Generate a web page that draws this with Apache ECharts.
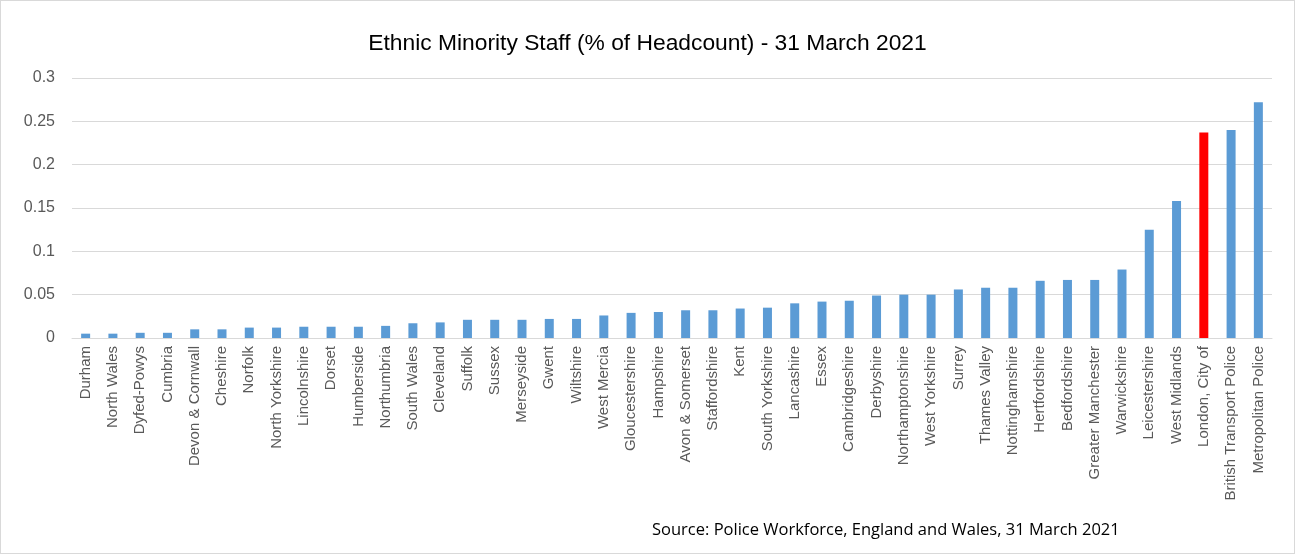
<!DOCTYPE html>
<html>
<head>
<meta charset="utf-8">
<script src="https://cdn.jsdelivr.net/npm/echarts@6/dist/echarts.min.js"></script>
<style>
    html, body { margin: 0; padding: 0; background: #fff; }
    #chart { width: 1293px; height: 552px; border: 1px solid #d9d9d9; }
</style>
</head>
<body>
<div id="chart"></div>
<script>
var forces = ['Durham', 'North Wales', 'Dyfed-Powys', 'Cumbria', 'Devon & Cornwall', 'Cheshire',
    'Norfolk', 'North Yorkshire', 'Lincolnshire', 'Dorset', 'Humberside', 'Northumbria',
    'South Wales', 'Cleveland', 'Suffolk', 'Sussex', 'Merseyside', 'Gwent', 'Wiltshire',
    'West Mercia', 'Gloucestershire', 'Hampshire', 'Avon & Somerset', 'Staffordshire', 'Kent',
    'South Yorkshire', 'Lancashire', 'Essex', 'Cambridgeshire', 'Derbyshire', 'Northamptonshire',
    'West Yorkshire', 'Surrey', 'Thames Valley', 'Nottinghamshire', 'Hertfordshire',
    'Bedfordshire', 'Greater Manchester', 'Warwickshire', 'Leicestershire', 'West Midlands',
    'London, City of', 'British Transport Police', 'Metropolitan Police'];

var minorityShare = [0.005, 0.005, 0.006, 0.006, 0.010, 0.010, 0.012, 0.012, 0.013, 0.013,
    0.013, 0.014, 0.017, 0.018, 0.021, 0.021, 0.021, 0.022, 0.022, 0.026, 0.029, 0.030,
    0.032, 0.032, 0.034, 0.035, 0.040, 0.042, 0.043, 0.049, 0.050, 0.050, 0.056, 0.058,
    0.058, 0.066, 0.067, 0.067, 0.079, 0.125, 0.158, 0.237, 0.240, 0.272];

var highlighted = ['London, City of'];

var chart = echarts.init(document.getElementById('chart'));
var option = {
    animation: false,
    textStyle: { fontFamily: 'Liberation Sans' },
    title: [
        {
            text: 'Ethnic Minority Staff (% of Headcount) - 31 March 2021',
            left: 'center',
            top: 26,
            textStyle: { fontSize: 22.8, fontWeight: 'normal', color: '#000', fontFamily: 'Liberation Sans' }
        },
        {
            text: 'Source: Police Workforce, England and Wales, 31 March 2021',
            left: 646,
            top: 516,
            textStyle: { fontSize: 16.5, fontWeight: 'normal', color: '#000', fontFamily: 'Open Sans' }
        }
    ],
    grid: { left: 71, right: 22, top: 77, bottom: 215, containLabel: false },
    xAxis: {
        type: 'category',
        data: forces,
        axisLine: { lineStyle: { color: '#d9d9d9' } },
        axisTick: { show: false },
        axisLabel: {
            interval: 0,
            rotate: 90,
            color: '#595959',
            fontSize: 15,
            margin: 8
        }
    },
    yAxis: {
        type: 'value',
        min: 0,
        max: 0.3,
        interval: 0.05,
        axisLine: { show: false },
        axisTick: { show: false },
        splitLine: { lineStyle: { color: '#d9d9d9' } },
        axisLabel: {
            color: '#595959',
            fontSize: 16,
            margin: 17,
            formatter: function (v) { return String(Math.round(v * 100) / 100); }
        }
    },
    series: [
        {
            type: 'bar',
            barWidth: 9,
            data: minorityShare.map(function (v, i) {
                var isRed = highlighted.indexOf(forces[i]) >= 0;
                return { value: v, itemStyle: { color: isRed ? '#ff0000' : '#5b9bd5' } };
            })
        }
    ]
};
chart.setOption(option);
</script>
</body>
</html>
